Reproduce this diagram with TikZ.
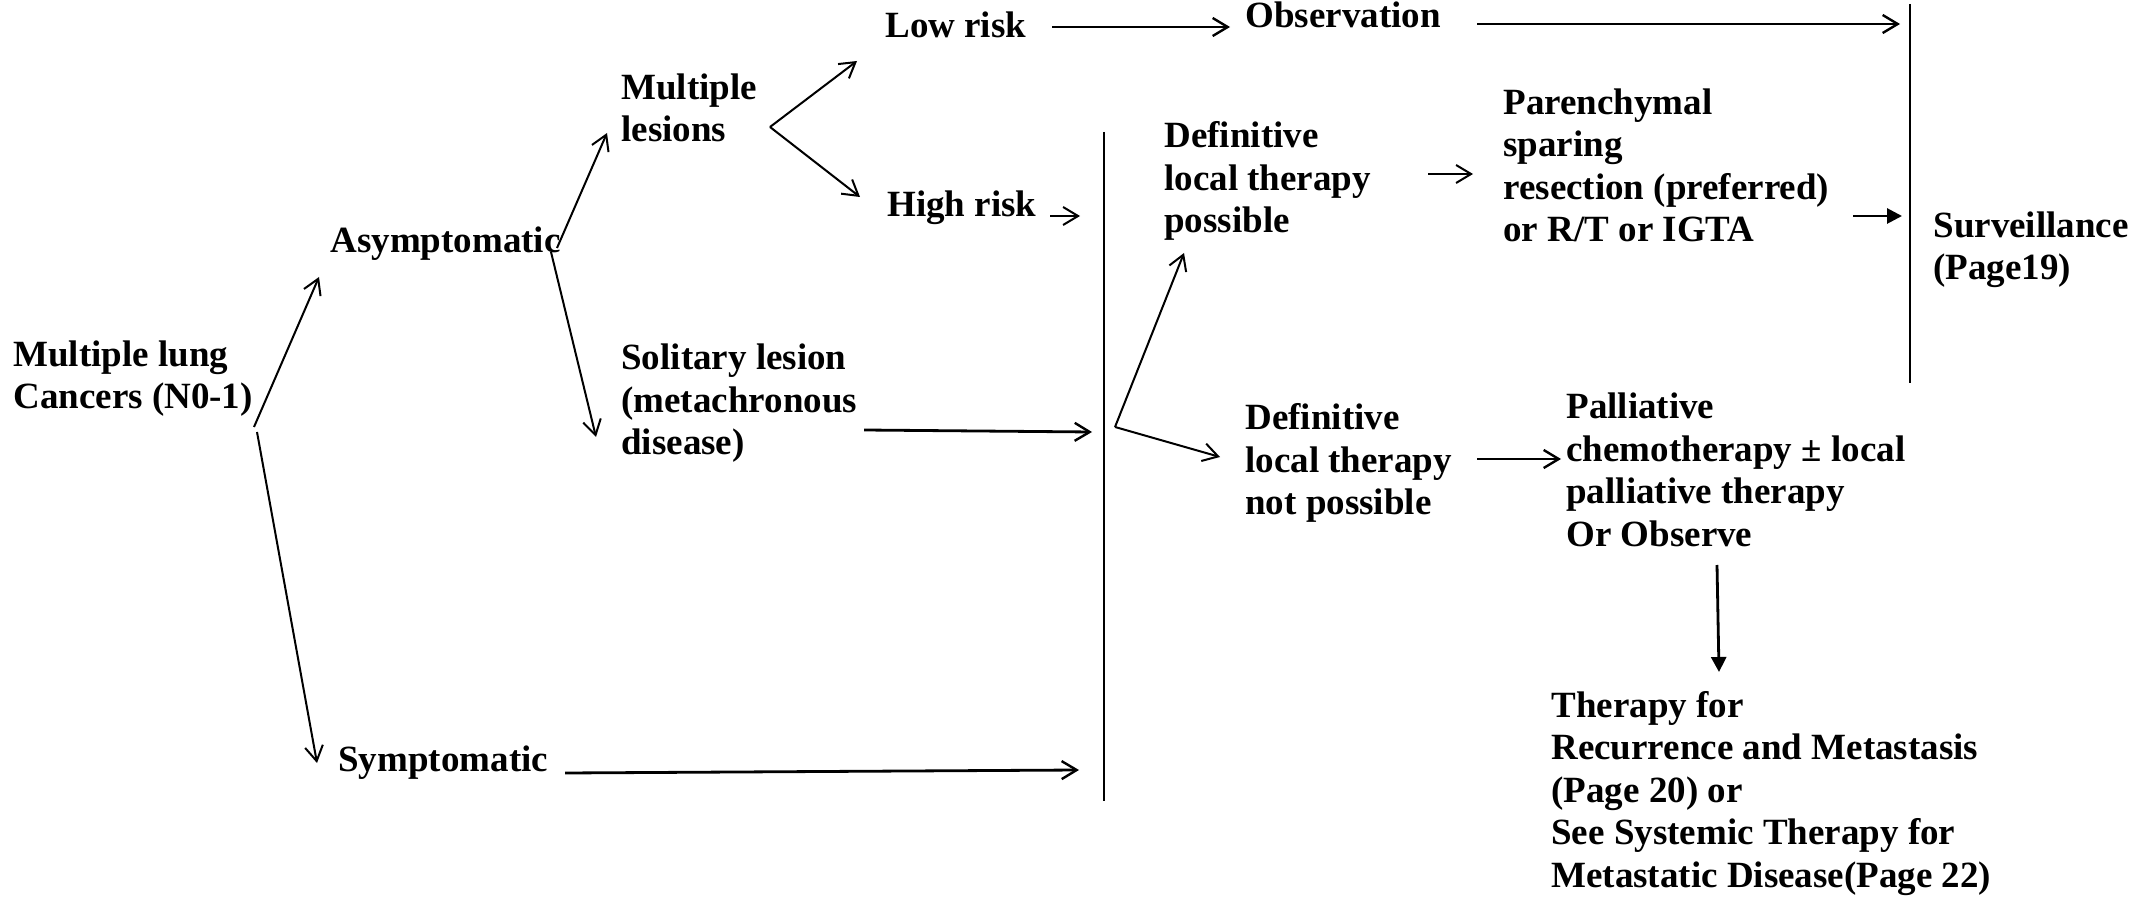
\documentclass[tikz,border=0pt]{standalone}
\usepackage{fontspec}
\setmainfont{Liberation Serif}
\usetikzlibrary{arrows.meta}
\begin{document}
\begin{tikzpicture}[x=0.5pt,y=-0.5pt,
  lbl/.style={anchor=base west, align=left, inner sep=0pt,
    font=\bfseries\fontsize{18.5pt}{21.25pt}\selectfont},
  link/.style={line width=1pt, -{Straight Barb[length=7.5pt,width=9pt,line width=1pt]}},
  heavylink/.style={line width=1.4pt, -{Straight Barb[length=7.5pt,width=9pt,line width=1.2pt]}},
  solidlink/.style={line width=1.4pt, -{Triangle[length=7.5pt,width=7.5pt]}},
  bar/.style={line width=1pt}]
\useasboundingbox (0,0) rectangle (2151,897);

% text blocks (each placed by the baseline of its last line)
\node[lbl] (lung)  at (13,409)   {Multiple lung\\Cancers (N0-1)};
\node[lbl] (asym)  at (330,253)  {Asymptomatic};
\node[lbl] (multi) at (621,142)  {Multiple\\lesions};
\node[lbl] (low)   at (885,38)   {Low risk};
\node[lbl] (high)  at (887,217)  {High risk};
\node[lbl] (obs)   at (1245,28)  {Observation};
\node[lbl] (sol)   at (621,455)  {Solitary lesion\\(metachronous\\disease)};
\node[lbl] (sym)   at (338,771)  {Symptomatic};
\node[lbl] (defp)  at (1164,233) {Definitive\\local therapy\\possible};
\node[lbl] (paren) at (1503,242) {Parenchymal\\sparing\\resection (preferred)\\or R/T or IGTA};
\node[lbl] (surv)  at (1933,280) {Surveillance\\(Page19)};
\node[lbl] (defn)  at (1245,515) {Definitive\\local therapy\\not possible};
\node[lbl] (pall)  at (1566,546) {Palliative\\chemotherapy ± local\\palliative therapy\\Or Observe};
\node[lbl] (ther)  at (1551,887) {Therapy for\\Recurrence and Metastasis\\(Page 20) or\\See Systemic Therapy for\\Metastatic Disease(Page 22)};

% connector end points
\coordinate (lungUp)   at (254,427);
\coordinate (asymIn)   at (319,277);
\coordinate (lungDn)   at (257,432);
\coordinate (symIn)    at (317,763);
\coordinate (asymUp)   at (557,248);
\coordinate (multiIn)  at (607,133);
\coordinate (asymDn)   at (551,252);
\coordinate (solIn)    at (596,437);
\coordinate (multiFork) at (770,127);
\coordinate (lowIn)    at (857,61);
\coordinate (highIn)   at (860,197);
\coordinate (lowOut)   at (1052,27);
\coordinate (obsIn)    at (1230,27);
\coordinate (obsOut)   at (1477,24);
\coordinate (obsEnd)   at (1900,24);
\coordinate (highOut)  at (1050,216);
\coordinate (highEnd)  at (1080,216);
\coordinate (solOut)   at (864,430);
\coordinate (solEnd)   at (1092,432);
\coordinate (symOut)   at (565,773);
\coordinate (symEnd)   at (1079,770);
\coordinate (midTop)   at (1104,132);
\coordinate (midBot)   at (1104,801);
\coordinate (midFork)  at (1115,427);
\coordinate (defpIn)   at (1184,253);
\coordinate (defnIn)   at (1220,457);
\coordinate (defpOut)  at (1428,174);
\coordinate (parenIn)  at (1473,174);
\coordinate (parenOut) at (1853,216);
\coordinate (survIn)   at (1902,216);
\coordinate (rightTop) at (1910,4);
\coordinate (rightBot) at (1910,383);
\coordinate (defnOut)  at (1477,459);
\coordinate (pallIn)   at (1561,459);
\coordinate (pallOut)  at (1717,565);
\coordinate (therIn)   at (1719,672);

% collecting bars
\draw[bar] (midTop) -- (midBot);
\draw[bar] (rightTop) -- (rightBot);

% branches
\draw[link] (lungUp) -- (asymIn);
\draw[link] (lungDn) -- (symIn);
\draw[link] (asymUp) -- (multiIn);
\draw[link] (asymDn) -- (solIn);
\draw[link] (multiFork) -- (lowIn);
\draw[link] (multiFork) -- (highIn);
\draw[heavylink] (lowOut) -- (obsIn);
\draw[heavylink] (obsOut) -- (obsEnd);
\draw[link] (highOut) -- (highEnd);
\draw[heavylink] (solOut) -- (solEnd);
\draw[heavylink] (symOut) -- (symEnd);
\draw[link] (midFork) -- (defpIn);
\draw[link] (midFork) -- (defnIn);
\draw[link] (defpOut) -- (parenIn);
\draw[solidlink] (parenOut) -- (survIn);
\draw[heavylink] (defnOut) -- (pallIn);
\draw[solidlink] (pallOut) -- (therIn);
\end{tikzpicture}
\end{document}
